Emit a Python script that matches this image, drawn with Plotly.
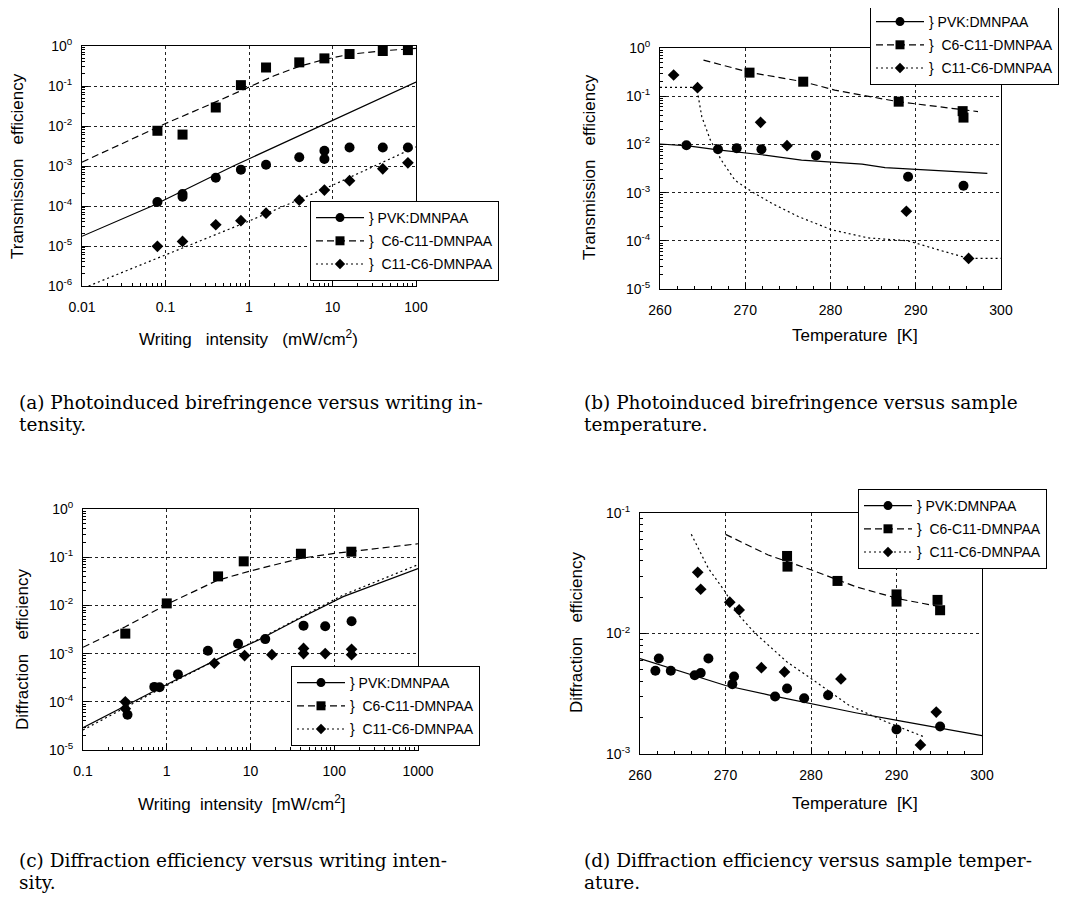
import plotly.graph_objects as go

# ================= DATA =================
# (a) Transmission efficiency vs writing intensity
a_x_pvk = [0.08, 0.16, 0.16, 0.4, 0.8, 1.6, 4, 8, 8, 16, 40, 80]
a_y_pvk = [1.26e-4, 2.0e-4, 1.7e-4, 5.1e-4, 8.1e-4, 1.07e-3, 1.66e-3, 2.4e-3, 1.5e-3, 2.9e-3, 2.9e-3, 2.9e-3]
a_x_c6 = [0.08, 0.16, 0.4, 0.8, 1.6, 4, 8, 16, 40, 80]
a_y_c6 = [7.6e-3, 6.1e-3, 0.029, 0.105, 0.29, 0.39, 0.49, 0.63, 0.75, 0.79]
a_x_c11 = [0.08, 0.16, 0.4, 0.8, 1.6, 4, 8, 16, 40, 80]
a_y_c11 = [9.8e-6, 1.3e-5, 3.4e-5, 4.3e-5, 6.6e-5, 1.4e-4, 2.5e-4, 4.3e-4, 8.5e-4, 1.2e-3]
a_fit_x_pvk = [0.01, 0.069, 0.65, 7.1, 100]
a_fit_y_pvk = [1.75e-5, 1e-4, 1e-3, 1e-2, 0.125]
a_fit_x_c6 = [0.01, 0.1, 0.4, 1, 2, 4, 8, 16, 40, 100]
a_fit_y_c6 = [1.25e-3, 0.0115, 0.04, 0.095, 0.18, 0.31, 0.46, 0.62, 0.76, 0.87]
a_fit_x_c11 = [0.012, 0.1, 1, 10, 100]
a_fit_y_c11 = [1e-6, 6e-6, 4.2e-5, 3.3e-4, 3.0e-3]

# (b) Transmission efficiency vs temperature
b_t_pvk = [263.1, 266.8, 269.0, 271.9, 278.3, 289.1, 295.6]
b_y_pvk = [9.6e-3, 7.9e-3, 8.3e-3, 7.9e-3, 5.9e-3, 2.14e-3, 1.39e-3]
b_t_c6 = [270.5, 276.8, 288.0, 295.5, 295.6]
b_y_c6 = [0.308, 0.2, 0.077, 0.049, 0.036]
b_t_c11 = [261.6, 264.4, 271.8, 274.9, 288.9, 296.2]
b_y_c11 = [0.275, 0.15, 0.0287, 9.4e-3, 4.1e-4, 4.3e-5]
b_fit_t_pvk = [260, 263.3, 266.8, 270.0, 272.3, 276.6, 280.1, 283.7, 286.4, 290.7, 298.4]
b_fit_y_pvk = [0.0102, 9.3e-3, 7.7e-3, 6.8e-3, 6.0e-3, 4.7e-3, 4.3e-3, 3.9e-3, 3.3e-3, 3.0e-3, 2.5e-3]
b_fit_t_c6 = [265.1, 270.6, 276.8, 280.5, 287.9, 295.4, 297.3]
b_fit_y_c6 = [0.56, 0.31, 0.2, 0.134, 0.077, 0.052, 0.048]
b_fit_t_c11 = [260, 264.3, 264.9, 265.9, 267.2, 268.8, 270.75, 273.1, 276.2, 280.1, 284.4, 289.1, 292.65, 296.2, 300]
b_fit_y_c11 = [0.153, 0.153, 0.0376, 0.0124, 4.7e-3, 1.8e-3, 1.05e-3, 6.0e-4, 3.2e-4, 1.7e-4, 1.15e-4, 1.0e-4, 6.5e-5, 4.3e-5, 4.3e-5]

# (c) Diffraction efficiency vs writing intensity
c_x_pvk = [0.34, 0.71, 0.82, 1.36, 3.1, 7.1, 15, 43, 78, 161]
c_y_pvk = [5.4e-5, 2.04e-4, 2.0e-4, 3.7e-4, 1.15e-3, 1.6e-3, 2.0e-3, 3.8e-3, 3.7e-3, 4.7e-3]
c_x_c6 = [0.32, 1.0, 4.1, 8.3, 40, 160]
c_y_c6 = [2.6e-3, 0.011, 0.04, 0.082, 0.118, 0.13]
c_x_c11 = [0.32, 0.32, 3.7, 8.5, 18, 43, 43, 78, 161, 161]
c_y_c11 = [1.0e-4, 7.2e-5, 6.3e-4, 9.1e-4, 9.5e-4, 1.28e-3, 1.0e-3, 1.0e-3, 1.23e-3, 9.5e-4]
c_fit_x_pvk = [0.1, 0.32, 1.16, 5.5, 12.3, 39, 128, 1000]
c_fit_y_pvk = [2.9e-5, 8.2e-5, 2.6e-4, 1e-3, 1.9e-3, 5.4e-3, 0.0152, 0.058]
c_fit_x_c6 = [0.1, 0.32, 1, 4, 10, 40, 100, 1000]
c_fit_y_c6 = [1.35e-3, 3.6e-3, 0.0105, 0.033, 0.052, 0.095, 0.12, 0.19]
c_fit_x_c11 = [0.1, 0.32, 1.16, 5.5, 12.3, 39, 128, 1000]
c_fit_y_c11 = [2.6e-5, 7.6e-5, 2.5e-4, 1e-3, 1.95e-3, 5.6e-3, 0.0165, 0.07]

# (d) Diffraction efficiency vs temperature
d_t_pvk = [261.8, 262.2, 263.6, 266.4, 267.1, 268.0, 270.8, 271.0, 275.8, 277.2, 279.2, 282.0, 290.0, 295.1]
d_y_pvk = [4.9e-3, 6.2e-3, 4.9e-3, 4.5e-3, 4.7e-3, 6.2e-3, 3.8e-3, 4.4e-3, 3.0e-3, 3.5e-3, 2.9e-3, 3.07e-3, 1.6e-3, 1.69e-3]
d_t_c6 = [277.2, 277.25, 283.1, 290.0, 290.0, 294.8, 295.1]
d_y_c6 = [0.044, 0.0359, 0.0273, 0.0211, 0.0184, 0.019, 0.0156]
d_t_c11 = [266.75, 267.1, 270.5, 271.6, 274.2, 276.9, 283.5, 294.65, 292.8]
d_y_c11 = [0.0322, 0.0233, 0.0182, 0.0157, 5.2e-3, 4.8e-3, 4.2e-3, 2.23e-3, 1.19e-3]
d_fit_t_pvk = [260, 264.9, 270, 275, 280.3, 285.2, 290.4, 295.3, 300]
d_fit_y_pvk = [6.2e-3, 4.8e-3, 3.7e-3, 3.1e-3, 2.6e-3, 2.2e-3, 1.88e-3, 1.62e-3, 1.42e-3]
d_fit_t_c6 = [270, 275, 280.3, 285.2, 290.4, 295.1]
d_fit_y_c6 = [0.0665, 0.0448, 0.0332, 0.0245, 0.0193, 0.0167]
d_fit_t_c11 = [266, 268, 270, 271.5, 273.5, 277.2, 280.5, 284.4, 288.7, 293.2]
d_fit_y_c11 = [0.0665, 0.0347, 0.022, 0.0143, 0.01, 5.8e-3, 4.0e-3, 2.55e-3, 1.86e-3, 1.39e-3]

series_names = ["}\u00a0PVK:DMNPAA", "}\u00a0\u00a0C6-C11-DMNPAA", "}\u00a0\u00a0C11-C6-DMNPAA"]

# tick labels
a_xticks = [0.01, 0.1, 1, 10, 100]
a_xlabels = ["0.01", "0.1", "1", "10", "100"]
c_xticks = [0.1, 1, 10, 100, 1000]
c_xlabels = ["0.1", "1", "10", "100", "1000"]
t_ticks = [260, 270, 280, 290, 300]
t_labels = ["260", "270", "280", "290", "300"]
a_yexp = [-6, -5, -4, -3, -2, -1, 0]
b_yexp = [-5, -4, -3, -2, -1, 0]
c_yexp = [-5, -4, -3, -2, -1, 0]
d_yexp = [-3, -2, -1]

# ================= STYLE =================
FONT = "Liberation Sans, Arial, sans-serif"
SERIF = "DejaVu Serif, Liberation Serif, serif"
OFF = 8                      # default page body margin
W, H = 1067 - OFF, 900 - OFF  # figure size so page fits the window
LINE_STYLES = ["solid", "7px,4px", "2px,3px"]
SYMBOLS = ["circle", "square", "diamond"]
MSIZE = [10, 10, 9]


def px_x(p):
    return (p - OFF) / W


def px_y(p):
    return 1 - (p - OFF) / H


def minor_log(exps):
    return [m * 10.0 ** e for e in exps[:-1] for m in range(2, 10)]


def base_axis(dom):
    return dict(
        domain=dom, automargin=False,
        ticks="inside", ticklen=6, tickwidth=1, tickcolor="black",
        showline=True, linecolor="black", linewidth=1, mirror=True,
        showgrid=True, gridcolor="#222", griddash="dot", gridwidth=1,
        tickfont=dict(family=FONT, size=14, color="black"),
        zeroline=False,
    )


def log_axis(exps, dom, labels=None, tickvals=None):
    if tickvals is None:
        tickvals = [10.0 ** e for e in exps]
    if labels is None:
        labels = ["10<sup>%s</sup>" % e for e in exps]
    ax = base_axis(dom)
    ax.update(type="log", range=[exps[0], exps[-1]],
              tickmode="array", tickvals=tickvals, ticktext=labels,
              minor=dict(tickmode="array", tickvals=minor_log(exps), ticks="inside",
                         ticklen=3, tickcolor="black", showgrid=False))
    return ax


def lin_axis(dom):
    ax = base_axis(dom)
    ax.update(type="linear", range=[260, 300],
              tickmode="array", tickvals=t_ticks, ticktext=t_labels,
              minor=dict(tickmode="array", tickvals=list(range(262, 300, 2)), ticks="inside",
                         ticklen=3, tickcolor="black", showgrid=False))
    return ax


fig = go.Figure()

panels = [
    ("x", "y", "legend",
     [(a_x_pvk, a_y_pvk), (a_x_c6, a_y_c6), (a_x_c11, a_y_c11)],
     [(a_fit_x_pvk, a_fit_y_pvk), (a_fit_x_c6, a_fit_y_c6), (a_fit_x_c11, a_fit_y_c11)]),
    ("x2", "y2", "legend2",
     [(b_t_pvk, b_y_pvk), (b_t_c6, b_y_c6), (b_t_c11, b_y_c11)],
     [(b_fit_t_pvk, b_fit_y_pvk), (b_fit_t_c6, b_fit_y_c6), (b_fit_t_c11, b_fit_y_c11)]),
    ("x3", "y3", "legend3",
     [(c_x_pvk, c_y_pvk), (c_x_c6, c_y_c6), (c_x_c11, c_y_c11)],
     [(c_fit_x_pvk, c_fit_y_pvk), (c_fit_x_c6, c_fit_y_c6), (c_fit_x_c11, c_fit_y_c11)]),
    ("x4", "y4", "legend4",
     [(d_t_pvk, d_y_pvk), (d_t_c6, d_y_c6), (d_t_c11, d_y_c11)],
     [(d_fit_t_pvk, d_fit_y_pvk), (d_fit_t_c6, d_fit_y_c6), (d_fit_t_c11, d_fit_y_c11)]),
]

for xa, ya, lg, pts, fits in panels:
    for i in range(3):
        fx, fy = fits[i]
        fig.add_trace(go.Scatter(x=fx, y=fy, mode="lines", xaxis=xa, yaxis=ya,
                                 line=dict(color="black", width=1.2, dash=LINE_STYLES[i]),
                                 showlegend=False, hoverinfo="skip"))
        px_, py_ = pts[i]
        fig.add_trace(go.Scatter(x=px_, y=py_, mode="markers", xaxis=xa, yaxis=ya,
                                 marker=dict(symbol=SYMBOLS[i], size=MSIZE[i], color="black"),
                                 showlegend=False))
        fig.add_trace(go.Scatter(x=[None], y=[None], mode="lines+markers", xaxis=xa, yaxis=ya,
                                 name=series_names[i], legend=lg, legendgroup=lg + str(i),
                                 line=dict(color="black", width=1.2, dash=LINE_STYLES[i]),
                                 marker=dict(symbol=SYMBOLS[i], size=MSIZE[i] - 1, color="black")))

dom_a_x = [px_x(82), px_x(416)]; dom_a_y = [px_y(286), px_y(46)]
dom_b_x = [px_x(660), px_x(1001)]; dom_b_y = [px_y(289), px_y(48)]
dom_c_x = [px_x(83), px_x(418)]; dom_c_y = [px_y(750), px_y(509)]
dom_d_x = [px_x(640), px_x(982)]; dom_d_y = [px_y(754), px_y(513)]

xa_a = log_axis([-2, -1, 0, 1, 2], dom_a_x, labels=a_xlabels, tickvals=a_xticks); xa_a.update(anchor="y")
ya_a = log_axis(a_yexp, dom_a_y); ya_a.update(anchor="x")
xa_b = lin_axis(dom_b_x); xa_b.update(anchor="y2")
ya_b = log_axis(b_yexp, dom_b_y); ya_b.update(anchor="x2")
xa_c = log_axis([-1, 0, 1, 2, 3], dom_c_x, labels=c_xlabels, tickvals=c_xticks); xa_c.update(anchor="y3")
ya_c = log_axis(c_yexp, dom_c_y); ya_c.update(anchor="x3")
xa_d = lin_axis(dom_d_x); xa_d.update(anchor="y4")
ya_d = log_axis(d_yexp, dom_d_y); ya_d.update(anchor="x4")
for ax in (xa_a, xa_b, xa_c, xa_d):
    ax.update(ticklabelstandoff=8)
for ax in (ya_a, ya_b, ya_c, ya_d):
    ax.update(ticklabelstandoff=6)


def legend_at(x0, y0):
    return dict(x=px_x(x0), y=px_y(y0), xanchor="left", yanchor="top",
                xref="paper", yref="paper",
                bgcolor="white", bordercolor="black", borderwidth=1,
                font=dict(family=FONT, size=14, color="black"),
                tracegroupgap=2, itemwidth=48)


fig.update_layout(
    width=W, height=H,
    margin=dict(l=0, r=0, t=0, b=0, autoexpand=False),
    paper_bgcolor="white", plot_bgcolor="white",
    xaxis=xa_a, yaxis=ya_a,
    xaxis2=xa_b, yaxis2=ya_b,
    xaxis3=xa_c, yaxis3=ya_c,
    xaxis4=xa_d, yaxis4=ya_d,
    legend=legend_at(310, 201),
    legend2=legend_at(870, 5),
    legend3=legend_at(291, 666),
    legend4=legend_at(858, 489),
    font=dict(family=FONT, color="black"),
)

SP = "\u00a0\u00a0\u00a0"
ann = []


def txt(x, y, s, size=16, angle=0, family=FONT, xanchor="center"):
    ann.append(dict(x=px_x(x), y=px_y(y), xref="paper", yref="paper", text=s,
                    showarrow=False, textangle=angle, xanchor=xanchor, yanchor="middle",
                    font=dict(family=family, size=size, color="black")))


# axis titles
txt(248, 338, "Writing" + SP + "intensity" + SP + "(mW/cm<sup>2</sup>)", size=17)
txt(18, 166, "Transmission" + SP + "efficiency", angle=-90, size=17)
txt(855, 335, "Temperature\u00a0\u00a0[K]", size=17)
txt(589, 167, "Transmission" + SP + "efficiency", angle=-90, size=17)
txt(242, 803, "Writing\u00a0\u00a0intensity\u00a0\u00a0[mW/cm<sup>2</sup>]", size=17)
txt(22, 650, "Diffraction" + SP + "efficiency", angle=-90, size=17)
txt(855, 803, "Temperature\u00a0\u00a0[K]", size=17)
txt(576, 633, "Diffraction" + SP + "efficiency", angle=-90, size=17)

# captions
CAP = 18.5
txt(17, 402, "(a) Photoinduced birefringence versus writing in-", size=CAP, family=SERIF, xanchor="left")
txt(17, 424, "tensity.", size=CAP, family=SERIF, xanchor="left")
txt(582, 402, "(b) Photoinduced birefringence versus sample", size=CAP, family=SERIF, xanchor="left")
txt(582, 424, "temperature.", size=CAP, family=SERIF, xanchor="left")
txt(17, 860, "(c) Diffraction efficiency versus writing inten-", size=CAP, family=SERIF, xanchor="left")
txt(17, 882, "sity.", size=CAP, family=SERIF, xanchor="left")
txt(582, 860, "(d) Diffraction efficiency versus sample temper-", size=CAP, family=SERIF, xanchor="left")
txt(582, 882, "ature.", size=CAP, family=SERIF, xanchor="left")

fig.update_layout(annotations=ann)
fig.write_html("out.html")
